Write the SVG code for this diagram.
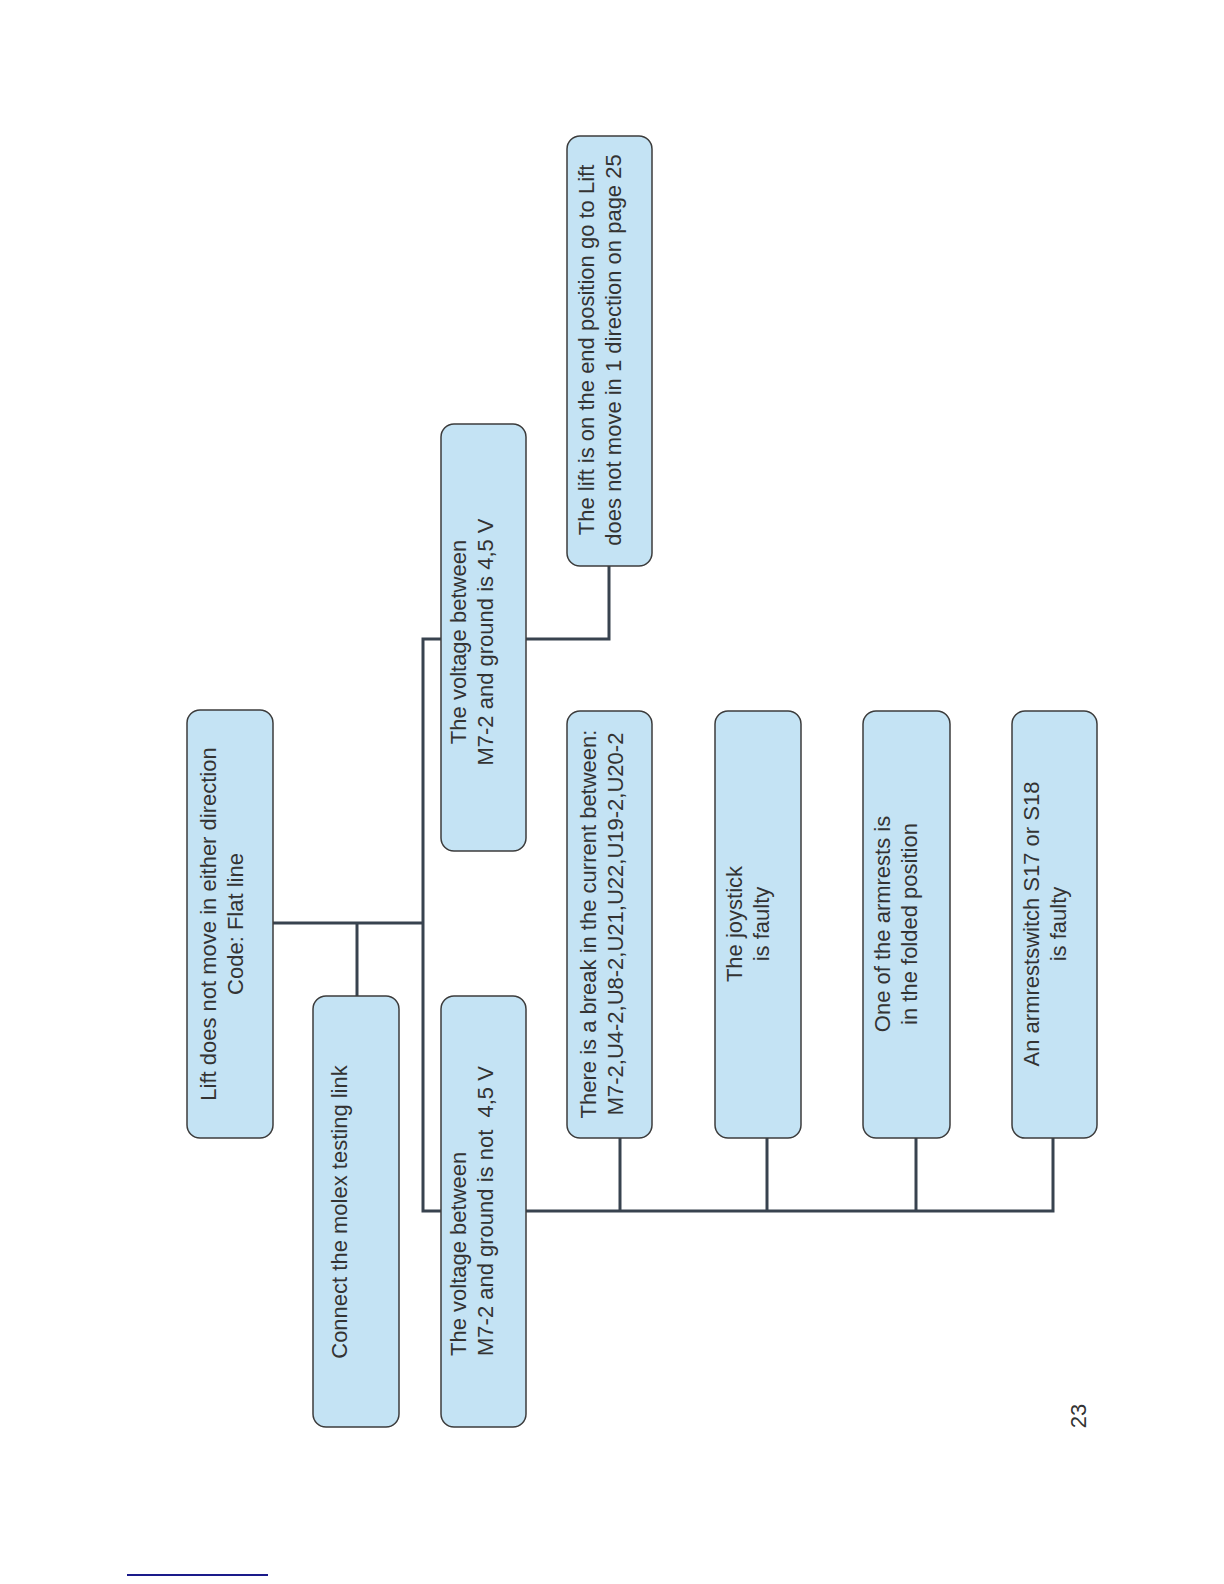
<svg xmlns="http://www.w3.org/2000/svg" width="1224" height="1584" viewBox="0 0 1224 1584">
<style>
.box{fill:#c4e3f4;stroke:#3c3c3c;stroke-width:1.5}
.t{font-family:"Liberation Sans",Arial,sans-serif;font-size:22px;fill:#333;text-anchor:middle}
.ts{font-family:"Liberation Sans",Arial,sans-serif;font-size:22px;fill:#333;text-anchor:start}
.c{fill:none;stroke:#38434f;stroke-width:3}
</style>
<rect width="1224" height="1584" fill="#fff"/>
<g id="connectors">
<polyline class="c" points="273,923 423,923"/>
<polyline class="c" points="357,923 357,996"/>
<polyline class="c" points="441,639 423,639 423,1211 441,1211"/>
<polyline class="c" points="526,639 609,639 609,566"/>
<polyline class="c" points="526,1211 1053,1211 1053,1138"/>
<polyline class="c" points="620,1211 620,1138"/>
<polyline class="c" points="767,1211 767,1138"/>
<polyline class="c" points="916,1211 916,1138"/>
</g>
<g id="n1">
<rect class="box" x="187" y="710" width="86" height="428" rx="13"/>
<text class="t" transform="translate(216,924) rotate(-90)"><tspan x="0" dy="0">Lift does not move in either direction</tspan><tspan x="0" dy="27">Code: Flat line</tspan></text>
</g>
<g id="n2">
<rect class="box" x="313" y="996" width="86" height="431" rx="13"/>
<text class="t" transform="translate(347,1212) rotate(-90)">Connect the molex testing link</text>
</g>
<g id="n3">
<rect class="box" x="441" y="996" width="85" height="431" rx="13"/>
<text class="ts" transform="translate(466,1356) rotate(-90)" xml:space="preserve"><tspan x="0" dy="0">The voltage between</tspan><tspan x="0" dy="27">M7-2 and ground is not  4,5 V</tspan></text>
</g>
<g id="n4">
<rect class="box" x="441" y="424" width="85" height="427" rx="13"/>
<text class="t" transform="translate(466,642) rotate(-90)"><tspan x="0" dy="0">The voltage between</tspan><tspan x="0" dy="27">M7-2 and ground is 4,5 V</tspan></text>
</g>
<g id="n5">
<rect class="box" x="567" y="136" width="85" height="430" rx="13"/>
<text class="t" transform="translate(594,350) rotate(-90)"><tspan x="0" dy="0">The lift is on the end position go to Lift</tspan><tspan x="0" dy="27">does not move in 1 direction on page 25</tspan></text>
</g>
<g id="n6">
<rect class="box" x="567" y="711" width="85" height="427" rx="13"/>
<text class="t" transform="translate(596,924) rotate(-90)"><tspan x="0" dy="0">There is a break in the current between:</tspan><tspan x="0" dy="27">M7-2,U4-2,U8-2,U21,U22,U19-2,U20-2</tspan></text>
</g>
<g id="n7">
<rect class="box" x="715" y="711" width="86" height="427" rx="13"/>
<text class="t" transform="translate(742,924) rotate(-90)"><tspan x="0" dy="0">The joystick</tspan><tspan x="0" dy="27">is faulty</tspan></text>
</g>
<g id="n8">
<rect class="box" x="863" y="711" width="87" height="427" rx="13"/>
<text class="t" transform="translate(890,924) rotate(-90)"><tspan x="0" dy="0">One of the armrests is</tspan><tspan x="0" dy="27">in the folded position</tspan></text>
</g>
<g id="n9">
<rect class="box" x="1012" y="711" width="85" height="427" rx="13"/>
<text class="t" transform="translate(1039,924) rotate(-90)"><tspan x="0" dy="0">An armrestswitch S17 or S18</tspan><tspan x="0" dy="27">is faulty</tspan></text>
</g>
<text class="t" transform="translate(1086,1416) rotate(-90)">23</text>
<line x1="127" y1="1575" x2="268" y2="1575" stroke="#1a1a8a" stroke-width="2"/>
</svg>
